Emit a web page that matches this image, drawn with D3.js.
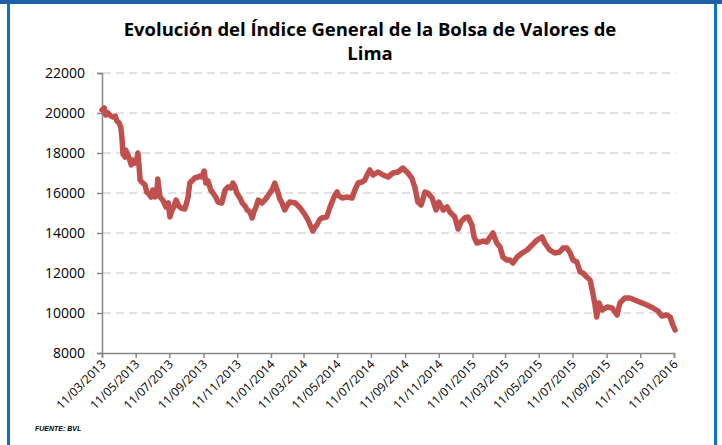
<!DOCTYPE html>
<html>
<head>
<meta charset="utf-8">
<script src="https://cdn.jsdelivr.net/npm/d3@7"></script>
<style>
  body { margin: 0; background: #fff; }
  svg { display: block; }
</style>
</head>
<body>
<div class="canvas"></div>
<script>
// chart data
const titleLines = ['Evolución del Índice General de la Bolsa de Valores de', 'Lima'];
const sourceNote = 'FUENTE: BVL';

const dates = [
  '2013-03-11','2013-03-15','2013-03-18','2013-03-22','2013-03-27','2013-03-31','2013-04-04','2013-04-07',
  '2013-04-11','2013-04-14','2013-04-16','2013-04-18','2013-04-22','2013-04-23','2013-04-27','2013-04-29',
  '2013-05-03','2013-05-06','2013-05-10','2013-05-13','2013-05-15','2013-05-17','2013-05-19','2013-05-22',
  '2013-05-28','2013-05-31','2013-06-04','2013-06-08','2013-06-11','2013-06-15','2013-06-19','2013-06-20',
  '2013-06-24','2013-06-29','2013-07-05','2013-07-09','2013-07-12','2013-07-16','2013-07-19','2013-07-23',
  '2013-07-28','2013-08-01','2013-08-08','2013-08-14','2013-08-17','2013-08-26','2013-09-01','2013-09-04',
  '2013-09-08','2013-09-12','2013-09-15','2013-09-19','2013-09-24','2013-09-28','2013-10-03','2013-10-07',
  '2013-10-14','2013-10-20','2013-10-25','2013-10-31','2013-11-03','2013-11-07','2013-11-10','2013-11-16',
  '2013-11-20','2013-11-25','2013-11-29','2013-12-04','2013-12-08','2013-12-11','2013-12-15','2013-12-19',
  '2013-12-26','2013-12-31','2014-01-04','2014-01-09','2014-01-13','2014-01-18','2014-01-24','2014-01-27',
  '2014-01-31','2014-02-05','2014-02-11','2014-02-14','2014-02-24','2014-03-05','2014-03-14','2014-03-19',
  '2014-03-23','2014-03-28','2014-04-01','2014-04-04','2014-04-10','2014-04-13','2014-04-22','2014-04-28',
  '2014-05-03','2014-05-07','2014-05-11','2014-05-12','2014-05-20','2014-05-29','2014-06-07','2014-06-12',
  '2014-06-18','2014-06-25','2014-06-30','2014-07-04','2014-07-09','2014-07-15','2014-07-24','2014-08-02',
  '2014-08-11','2014-08-20','2014-08-29','2014-09-07','2014-09-16','2014-09-23','2014-09-29','2014-10-04',
  '2014-10-10','2014-10-17','2014-10-22','2014-10-30','2014-11-06','2014-11-11','2014-11-19','2014-11-26',
  '2014-12-01','2014-12-10','2014-12-16','2014-12-21','2014-12-28','2015-01-03','2015-01-10','2015-01-14',
  '2015-01-19','2015-01-25','2015-01-30','2015-02-06','2015-02-12','2015-02-17','2015-02-24','2015-03-02',
  '2015-03-07','2015-03-14','2015-03-20','2015-03-25','2015-04-02','2015-04-11','2015-04-20','2015-04-29',
  '2015-05-08','2015-05-17','2015-05-22','2015-05-31','2015-06-09','2015-06-18','2015-06-24','2015-07-01',
  '2015-07-07','2015-07-12','2015-07-19','2015-07-25','2015-07-30','2015-08-06','2015-08-12','2015-08-17',
  '2015-08-21','2015-08-24','2015-08-28','2015-09-03','2015-09-12','2015-09-21','2015-09-30','2015-10-05',
  '2015-10-14','2015-10-23','2015-11-01','2015-11-14','2015-11-23','2015-12-04','2015-12-13','2015-12-20',
  '2015-12-29','2016-01-04','2016-01-09','2016-01-13'
];

const igbvl = [
  20150, 20250, 19900, 20000, 19850, 19800, 19850, 19600,
  19500, 19300, 18800, 17950, 17800, 18150, 17900, 17750,
  17400, 17650, 17500, 17650, 18000, 17400, 16650, 16550,
  16400, 16050, 15950, 15800, 16150, 15800, 16200, 16700,
  15800, 15650, 15300, 15500, 14800, 15150, 15300, 15650,
  15350, 15250, 15200, 15800, 16500, 16750, 16800, 16850,
  16800, 17100, 16500, 16600, 16150, 16000, 15800, 15550,
  15500, 16150, 16300, 16250, 16500, 16300, 16000, 15750,
  15500, 15350, 15150, 15050, 14750, 15050, 15300, 15650,
  15500, 15650, 15800, 16000, 16150, 16500, 16000, 15700,
  15500, 15150, 15450, 15550, 15500, 15250, 14900, 14650,
  14400, 14100, 14300, 14400, 14700, 14750, 14800, 15300,
  15650, 15900, 16050, 15900, 15750, 15800, 15750, 16150,
  16500, 16550, 16650, 16900, 17150, 16900, 17050, 16900,
  16800, 17000, 17050, 17250, 17000, 16750, 16250, 15550,
  15400, 16050, 16000, 15750, 15150, 15550, 15150, 15300,
  15050, 14800, 14200, 14550, 14750, 14800, 14400, 13800,
  13500, 13550, 13600, 13550, 13800, 14000, 13500, 13300,
  12800, 12650, 12650, 12500, 12800, 13000, 13150, 13400,
  13650, 13800, 13500, 13150, 13000, 13050, 13250, 13250,
  13000, 12650, 12550, 12050, 12000, 11800, 11650, 11000,
  10400, 9800, 10500, 10150, 10300, 10250, 9900, 10500,
  10750, 10750, 10650, 10500, 10400, 10250, 10100, 9850,
  9900, 9800, 9400, 9150
];

const xTickLabels = [
  '11/03/2013','11/05/2013','11/07/2013','11/09/2013','11/11/2013',
  '11/01/2014','11/03/2014','11/05/2014','11/07/2014','11/09/2014','11/11/2014',
  '11/01/2015','11/03/2015','11/05/2015','11/07/2015','11/09/2015','11/11/2015',
  '11/01/2016'
];
const yTicks = [8000, 10000, 12000, 14000, 16000, 18000, 20000, 22000];

const width = 722, height = 445;
const plot = { left: 102, right: 674, top: 73, bottom: 353 };
const lineColor = '#c0504d';
const axisColor = '#868686';
const font = '"Open Sans", Lato, sans-serif';

const parseIso = d3.timeParse('%Y-%m-%d');
const parseTick = d3.timeParse('%d/%m/%Y');
const series = dates.map((d, i) => ({ date: parseIso(d), value: igbvl[i] }));
const tickDates = xTickLabels.map(parseTick);

const svg = d3.select('.canvas').append('svg')
  .attr('width', width)
  .attr('height', height);

svg.append('rect').attr('width', width).attr('height', height).attr('fill', '#fff');

// blue frame of the slide
svg.append('rect').attr('x', 0).attr('y', 0).attr('width', width).attr('height', 4).attr('fill', '#1f5fa8');
svg.append('rect').attr('x', 7).attr('y', 3).attr('width', 3).attr('height', height - 3).attr('fill', '#0a72c8');
svg.append('rect').attr('x', 714).attr('y', 3).attr('width', 3).attr('height', height - 3).attr('fill', '#0a72c8');

const x = d3.scaleTime()
  .domain([tickDates[0], tickDates[tickDates.length - 1]])
  .range([plot.left, plot.right]);

const y = d3.scaleLinear()
  .domain([yTicks[0], yTicks[yTicks.length - 1]])
  .range([plot.bottom, plot.top]);

// gridlines
svg.append('g')
  .selectAll('line')
  .data(yTicks.slice(1))
  .join('line')
    .attr('x1', plot.left + 1)
    .attr('x2', plot.right + 2)
    .attr('y1', d => y(d))
    .attr('y2', d => y(d))
    .attr('stroke', '#d9d9d9')
    .attr('stroke-width', 1.5)
    .attr('stroke-dasharray', '8,5');

// y axis
const yAxis = svg.append('g')
  .attr('transform', `translate(${plot.left},0)`)
  .call(d3.axisLeft(y).tickValues(yTicks).tickFormat(d3.format('d')).tickSize(5).tickPadding(12));
yAxis.select('.domain').attr('stroke', axisColor).attr('stroke-width', 1.5);
yAxis.selectAll('.tick line').attr('stroke', axisColor).attr('stroke-width', 1.5);
yAxis.selectAll('.tick text')
  .attr('fill', '#000')
  .style('font-family', font)
  .style('font-size', '14px');

// x axis
const xAxis = svg.append('g')
  .attr('transform', `translate(0,${plot.bottom})`)
  .call(d3.axisBottom(x).tickValues(tickDates).tickFormat(d3.timeFormat('%d/%m/%Y')).tickSize(5));
xAxis.select('.domain').attr('stroke', axisColor).attr('stroke-width', 1.5);
xAxis.selectAll('.tick line').attr('stroke', axisColor).attr('stroke-width', 1.5);
xAxis.selectAll('.tick text')
  .attr('fill', '#000')
  .attr('text-anchor', 'end')
  .attr('dy', null)
  .attr('y', 0)
  .attr('transform', 'translate(4,12) rotate(-45)')
  .style('font-family', font)
  .style('font-size', '12px');

// the index line
const line = d3.line()
  .x(d => x(d.date))
  .y(d => y(d.value));

svg.append('path')
  .datum(series)
  .attr('d', line)
  .attr('fill', 'none')
  .attr('stroke', lineColor)
  .attr('stroke-width', 5.5)
  .attr('stroke-linejoin', 'round')
  .attr('stroke-linecap', 'round');

// title
svg.append('g')
  .selectAll('text')
  .data(titleLines)
  .join('text')
    .attr('x', 370)
    .attr('y', (d, i) => 36 + i * 24)
    .attr('text-anchor', 'middle')
    .style('font-family', font)
    .style('font-weight', 'bold')
    .style('font-size', '18.5px')
    .text(d => d);

svg.append('text')
  .attr('x', 35)
  .attr('y', 431)
  .style('font-family', '"Liberation Sans", Arial, sans-serif')
  .style('font-style', 'italic')
  .style('font-weight', 'bold')
  .style('font-size', '7px')
  .text(sourceNote);
</script>
</body>
</html>
